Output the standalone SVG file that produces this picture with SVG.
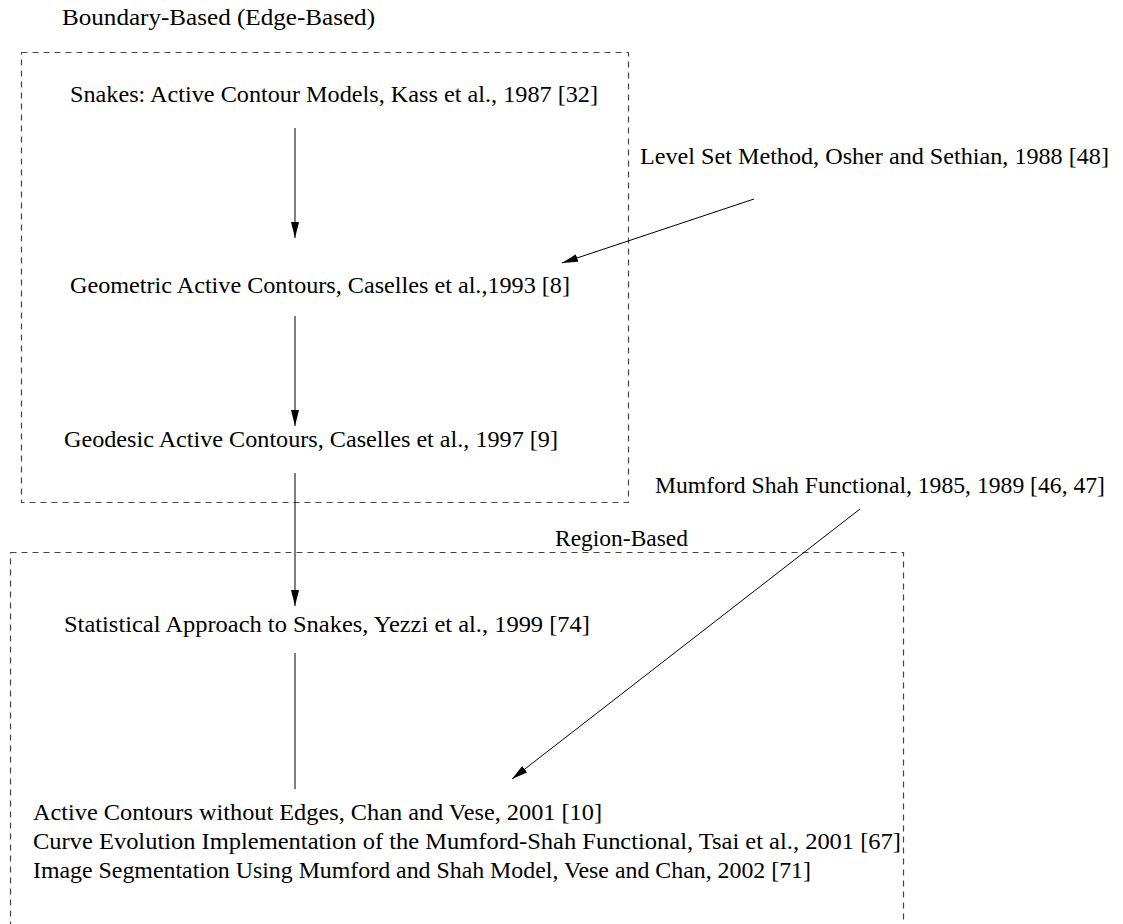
<svg xmlns="http://www.w3.org/2000/svg" width="1123" height="924" viewBox="0 0 1123 924">
<style>
text{font-family:"Liberation Serif","DejaVu Serif",serif;font-size:23px;fill:#000}
.box{fill:none;stroke:#444;stroke-width:1.2;stroke-dasharray:6 5}
.c{stroke:#000;stroke-width:1;fill:none}
</style>
<defs>
<marker id="ah" viewBox="0 0 16 8" refX="16" refY="4" markerWidth="16" markerHeight="8" markerUnits="userSpaceOnUse" orient="auto">
<path d="M0,0 L16,4 L0,8 Z" fill="#000"/>
</marker>
</defs>
<g id="boundary-group">
<rect id="boundary-box" class="box" x="21.5" y="52.5" width="607" height="450"/>
<text id="boundary-label" x="62" y="25" textLength="313" lengthAdjust="spacingAndGlyphs">Boundary-Based (Edge-Based)</text>
</g>
<g id="region-group">
<rect id="region-box" class="box" x="10.5" y="552.5" width="893" height="400"/>
<text id="region-label" x="555" y="546" textLength="133" lengthAdjust="spacingAndGlyphs">Region-Based</text>
</g>
<g id="connectors">
<line class="c" x1="295" y1="128" x2="295" y2="238" marker-end="url(#ah)"/>
<line class="c" x1="295" y1="316" x2="295" y2="426" marker-end="url(#ah)"/>
<line class="c" x1="295" y1="473" x2="295" y2="606" marker-end="url(#ah)"/>
<line class="c" x1="295" y1="653" x2="295" y2="789"/>
<line class="c" x1="754" y1="199" x2="562" y2="263" marker-end="url(#ah)"/>
<line class="c" x1="860" y1="509" x2="512" y2="779" marker-end="url(#ah)"/>
</g>
<g id="n-snakes"><text x="70" y="102" textLength="528" lengthAdjust="spacingAndGlyphs">Snakes: Active Contour Models, Kass et al., 1987 [32]</text></g>
<g id="n-levelset"><text x="640" y="164" textLength="469" lengthAdjust="spacingAndGlyphs">Level Set Method, Osher and Sethian, 1988 [48]</text></g>
<g id="n-geometric"><text x="70" y="293" textLength="500" lengthAdjust="spacingAndGlyphs">Geometric Active Contours, Caselles et al.,1993 [8]</text></g>
<g id="n-geodesic"><text x="64" y="447" textLength="494" lengthAdjust="spacingAndGlyphs">Geodesic Active Contours, Caselles et al., 1997 [9]</text></g>
<g id="n-mumford"><text x="655" y="493" textLength="450" lengthAdjust="spacingAndGlyphs">Mumford Shah Functional, 1985, 1989 [46, 47]</text></g>
<g id="n-statistical"><text x="64" y="632" textLength="526" lengthAdjust="spacingAndGlyphs">Statistical Approach to Snakes, Yezzi et al., 1999 [74]</text></g>
<g id="n-region-methods">
<text x="33" y="820" textLength="569" lengthAdjust="spacingAndGlyphs">Active Contours without Edges, Chan and Vese, 2001 [10]</text>
<text x="33" y="849" textLength="868" lengthAdjust="spacingAndGlyphs">Curve Evolution Implementation of the Mumford-Shah Functional, Tsai et al., 2001 [67]</text>
<text x="33" y="878" textLength="778" lengthAdjust="spacingAndGlyphs">Image Segmentation Using Mumford and Shah Model, Vese and Chan, 2002 [71]</text>
</g>
</svg>
